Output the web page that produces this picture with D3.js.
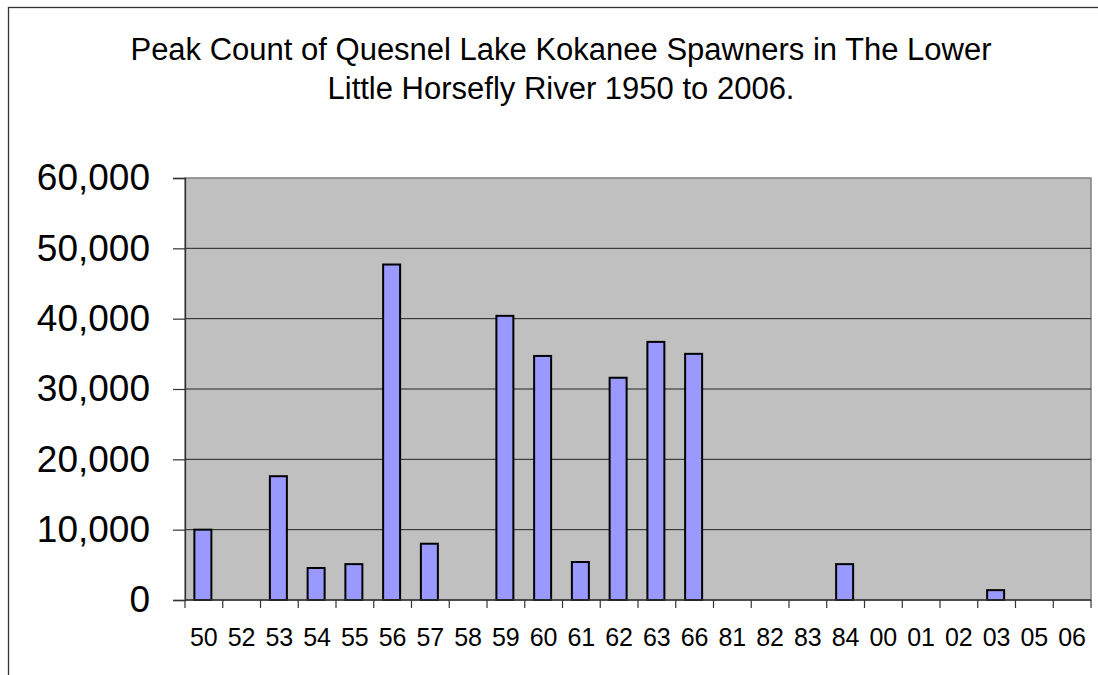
<!DOCTYPE html>
<html>
<head>
<meta charset="utf-8">
<script src="https://cdn.jsdelivr.net/npm/d3@7"></script>
<style>
  html, body { margin: 0; padding: 0; background: #fff; }
  svg { display: block; font-family: "Liberation Sans", Arial, sans-serif; }
</style>
</head>
<body>
<svg id="chart" width="1098" height="675"></svg>
<script>
const titleLines = ["Peak Count of Quesnel Lake Kokanee Spawners in The Lower", "Little Horsefly River 1950 to 2006."];
const categories = ["50","52","53","54","55","56","57","58","59","60","61","62","63","66","81","82","83","84","00","01","02","03","05","06"];
const values = [10000, 0, 17600, 4550, 5100, 47700, 8000, 0, 40400, 34700, 5400, 31600, 36700, 35000, 0, 0, 0, 5100, 0, 0, 0, 1400, 0, 0];
const yTicks = [0, 10000, 20000, 30000, 40000, 50000, 60000];

const svg = d3.select("#chart");
const plot = { left: 185, top: 178, right: 1091, bottom: 600 };

// outer chart border
svg.append("rect")
  .attr("x", 8.5).attr("y", 7.5)
  .attr("width", 1200).attr("height", 800)
  .attr("fill", "#fff").attr("stroke", "#333").attr("stroke-width", 1.3);

// title
svg.append("text")
  .attr("text-anchor", "middle")
  .attr("font-size", 31)
  .attr("fill", "#000")
  .selectAll("tspan").data(titleLines).join("tspan")
  .attr("x", 561)
  .attr("y", (d, i) => 60 + i * 39)
  .text(d => d);

const x = d3.scaleBand().domain(categories).range([plot.left, plot.right]).padding(0);
const y = d3.scaleLinear().domain([0, 60000]).range([plot.bottom, plot.top]);

// plot background
svg.append("rect")
  .attr("x", plot.left).attr("y", plot.top)
  .attr("width", plot.right - plot.left).attr("height", plot.bottom - plot.top)
  .attr("fill", "#c0c0c0").attr("stroke", "#808080").attr("stroke-width", 1.5);

// gridlines
svg.append("g").selectAll("line")
  .data(yTicks.filter(d => d > 0 && d < 60000)).join("line")
  .attr("x1", plot.left).attr("x2", plot.right)
  .attr("y1", d => y(d)).attr("y2", d => y(d))
  .attr("stroke", "#222").attr("stroke-width", 1);

// bars
const bw = x.bandwidth() * 0.45;
svg.append("g").selectAll("rect")
  .data(categories.map((c, i) => ({ c, v: values[i] })).filter(d => d.v > 0))
  .join("rect")
  .attr("x", d => x(d.c) + x.bandwidth() / 2 - bw / 2 - 1)
  .attr("y", d => y(d.v))
  .attr("width", bw)
  .attr("height", d => y(0) - y(d.v))
  .attr("fill", "#9999ff")
  .attr("stroke", "#000")
  .attr("stroke-width", 2);

// y axis
const yAxis = svg.append("g")
  .attr("transform", `translate(${plot.left},0)`)
  .call(d3.axisLeft(y).tickValues(yTicks).tickFormat(d3.format(",")).tickSize(12).tickPadding(23));
yAxis.select(".domain").attr("stroke", "#333").attr("stroke-width", 1.3);
yAxis.selectAll(".tick line").attr("stroke", "#333").attr("stroke-width", 1.2);
yAxis.selectAll(".tick text")
  .attr("font-size", 37)
  .attr("font-family", "Liberation Sans, Arial, sans-serif")
  .attr("fill", "#000")
  .attr("dy", "0.32em");

// x axis: baseline, boundary ticks, labels
const xg = svg.append("g");
xg.append("line")
  .attr("x1", plot.left).attr("x2", plot.right)
  .attr("y1", plot.bottom).attr("y2", plot.bottom)
  .attr("stroke", "#333").attr("stroke-width", 1.3);
const bounds = categories.map(c => x(c)).concat([x.range()[1]]);
xg.selectAll("line.tk").data(bounds).join("line")
  .attr("class", "tk")
  .attr("x1", d => d).attr("x2", d => d)
  .attr("y1", plot.bottom).attr("y2", plot.bottom + 8)
  .attr("stroke", "#333").attr("stroke-width", 1.2);
xg.selectAll("text").data(categories).join("text")
  .attr("x", d => x(d) + x.bandwidth() / 2)
  .attr("y", 646)
  .attr("text-anchor", "middle")
  .attr("font-size", 25)
  .attr("fill", "#000")
  .text(d => d);
</script>
</body>
</html>
